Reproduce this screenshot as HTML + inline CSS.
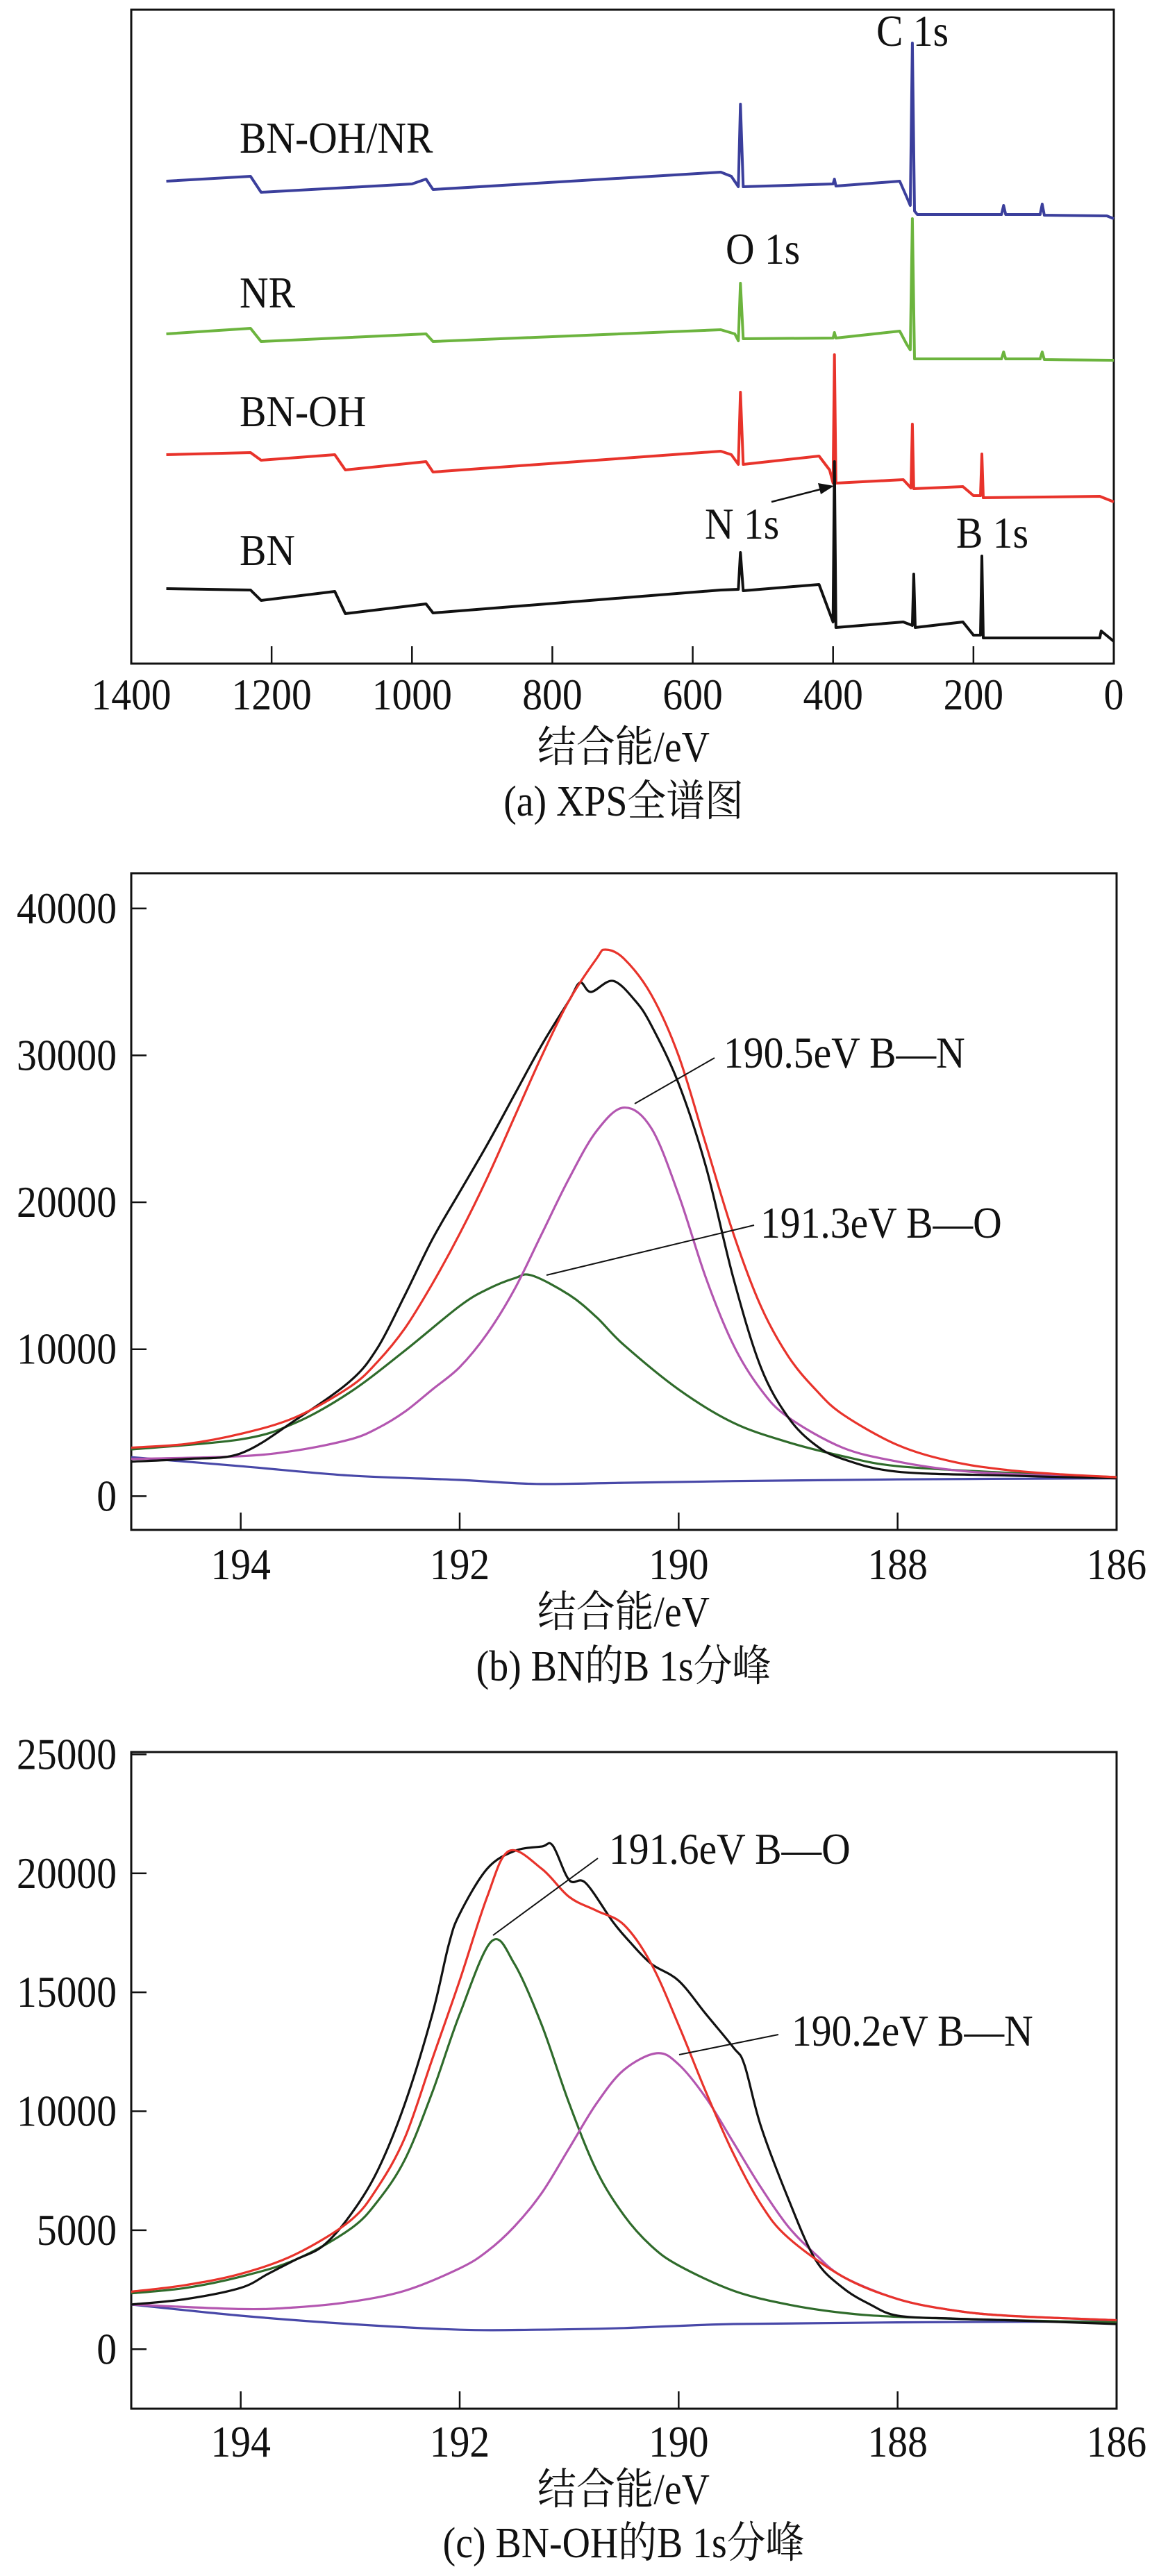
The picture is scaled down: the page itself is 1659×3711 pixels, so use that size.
<!DOCTYPE html>
<html><head><meta charset="utf-8"><style>
html,body{margin:0;padding:0;background:#fff;}
svg text{font-family:"Liberation Serif","Noto Serif CJK SC","Noto Sans CJK SC",serif;fill:#111;}
</style></head><body>
<svg id="fig" xmlns="http://www.w3.org/2000/svg" width="1659" height="3706" viewBox="0 0 1659 3706">
<g id="pa"></g>
<g id="pb"></g>
<g id="pc"></g>
</svg>
<script>
// ---------- Panel (a) data: [binding energy eV, intensity (a.u.)]
const aTicks = [1400,1200,1000,800,600,400,200,0];
const aBlue = [[1350,698],[1230,705],[1215,682],[1000,694],[980,701],[970,686],[560,711],[545,705],[535,690],[532,809],[528,690],[400,694],[398,701],[396,691],[305,698],[295,675],[290,663],[287,897],[284,655],[280,650],[160,650],[157,663],[154,650],[105,650],[102,665],[99,649],[10,648],[0,644]];
const aGreen = [[1350,478],[1230,486],[1215,467],[980,478],[970,467],[560,484],[540,478],[535,468],[532,551],[528,471],[400,472],[398,480],[396,472],[305,482],[295,463],[290,455],[287,644],[284,442],[160,442],[157,452],[154,442],[105,442],[102,452],[99,441],[0,440]];
const aRed = [[1350,304],[1230,307],[1215,296],[1110,304],[1095,282],[980,294],[970,279],[560,309],[545,304],[535,290],[532,394],[528,290],[420,302],[405,282],[400,263],[398,448],[396,263],[300,268],[289,256],[287,348],[285,255],[215,258],[200,245],[190,245],[188,305],[186,242],[20,244],[0,236]];
const aBlack = [[1350,111],[1230,109],[1215,94],[1110,107],[1095,75],[980,89],[970,76],[560,109],[535,110],[532,163],[528,108],[420,117],[410,90],[400,63],[398,294],[396,55],[300,63],[287,58],[285,132],[283,55],[215,63],[200,44],[190,44],[188,158],[186,40],[20,40],[18,50],[0,35]];

// ---------- Panel (b) data: [eV, counts]
const bTicksX = [194,192,190,188,186];
const bTicksY = [0,10000,20000,30000,40000];
const bRed = [[195,3300],[194.5,3550],[194,4240],[193.5,5370],[193,7450],[192.75,9150],[192.5,11430],[192.25,14450],[192,17860],[191.75,21640],[191.5,25800],[191.25,29970],[191,33750],[190.75,36590],[190.67,37200],[190.5,36590],[190.25,34130],[190,29970],[189.75,23910],[189.5,17860],[189.25,12940],[189,9530],[188.75,7260],[188.5,5560],[188,3480],[187.5,2350],[187,1780],[186.5,1480],[186,1290]];
const bBlack = [[195,2350],[194.5,2530],[194,2910],[193.5,5180],[193,7830],[192.75,10100],[192.5,13690],[192.25,17480],[192,20700],[191.75,23910],[191.5,27320],[191.25,30720],[191,33750],[190.9,34960],[190.8,34320],[190.6,35070],[190.4,33750],[190.25,32050],[190,28080],[189.75,22400],[189.5,14830],[189.25,8780],[189,5370],[188.75,3480],[188.5,2530],[188,1660],[187,1400],[186,1210]];
const bMag = [[195,2530],[194,2720],[193.5,3100],[193,3860],[192.75,4620],[192.5,5750],[192.25,7260],[192,8780],[191.75,11050],[191.5,14070],[191.25,17860],[191,21640],[190.75,24850],[190.5,26450],[190.25,25050],[190,20510],[189.75,14830],[189.5,10290],[189.25,7260],[189,5370],[188.5,3290],[188,2350],[187.5,1780],[187,1510],[186,1210]];
const bGreen = [[195,3180],[194,3860],[193.5,4990],[193,7080],[192.5,9910],[192,12940],[191.75,14070],[191.5,14830],[191.34,15020],[191,13700],[190.75,12180],[190.5,10290],[190,7260],[189.5,4990],[189,3670],[188.5,2720],[188,2040],[187,1590],[186,1290]];
const bBlue = [[195,2650],[194,2040],[193,1400],[192,1100],[191.3,830],[190.5,910],[189.5,1020],[188,1140],[186,1210]];

// ---------- Panel (c) data
const cTicksX = [194,192,190,188,186];
const cTicksY = [0,5000,10000,15000,20000,25000];
const cRed = [[195,2420],[194.5,2700],[194,3170],[193.5,3990],[193,5400],[192.75,6800],[192.5,8900],[192.25,12200],[192,15500],[191.75,19000],[191.55,20940],[191.25,20190],[191,19010],[190.75,18430],[190.5,17840],[190.25,16200],[190,13620],[189.75,10800],[189.5,8220],[189.25,6100],[189,4690],[188.5,3050],[188,2110],[187.5,1640],[187,1410],[186,1220]];
const cGreen = [[195,2350],[194.5,2580],[194,3050],[193.5,3760],[193,5050],[192.75,6220],[192.5,7980],[192.25,10800],[192,14080],[191.71,17140],[191.5,16200],[191.25,13620],[191,10330],[190.75,7510],[190.5,5630],[190.25,4340],[190,3520],[189.5,2460],[189,1880],[188.5,1530],[188,1360],[187,1220],[186,1130]];
const cMag = [[195,1880],[194,1690],[193.5,1760],[193,1990],[192.5,2460],[192,3400],[191.75,4110],[191.5,5160],[191.25,6570],[191,8450],[190.75,10330],[190.5,11740],[190.2,12440],[190,11970],[189.75,10560],[189.5,8690],[189.25,6810],[189,5160],[188.75,3990],[188.5,3050],[188,2110],[187.5,1640],[187,1410],[186,1220]];
const cBlack = [[195,1880],[194.5,2110],[194,2580],[193.75,3170],[193.5,3760],[193.25,4340],[193,5630],[192.75,7510],[192.5,10330],[192.25,14080],[192.1,17000],[192,18300],[191.75,20190],[191.5,20940],[191.25,21130],[191.15,21170],[191,19720],[190.85,19600],[190.6,17960],[190.45,17140],[190.25,16200],[190,15490],[189.75,14080],[189.5,12680],[189.4,11970],[189.25,9390],[189,6340],[188.75,3760],[188.5,2580],[188.25,1880],[188,1410],[187.5,1290],[187,1220],[186,1060]];
const cBlue = [[195,1880],[194,1410],[193,1060],[192,820],[191.3,820],[190.5,890],[189.5,1060],[188,1130],[186,1170]];

const NS='http://www.w3.org/2000/svg';
const FONT='"Liberation Serif","Noto Serif CJK SC","Noto Sans CJK SC",serif';
function mk(parent,tag,attrs,txt){const e=document.createElementNS(NS,tag);for(const k in attrs)e.setAttribute(k,attrs[k]);if(txt!==undefined)e.textContent=txt;parent.appendChild(e);return e;}
function txt(parent,x,y,size,anchor,s){return mk(parent,'text',{x:0,y:0,'font-size':size,'font-family':FONT,'text-anchor':anchor,transform:'translate('+x+','+y+') scale(0.9,1)'},s);}
function lin(d0,d1,r0,r1){return v=>r0+(v-d0)*(r1-r0)/(d1-d0);}
function poly(pts,sx,sy){return pts.map((p,i)=>(i?'L':'M')+sx(p[0]).toFixed(1)+','+sy(p[1]).toFixed(1)).join(' ');}
function smooth(pts,sx,sy){const P=pts.map(p=>[sx(p[0]),sy(p[1])]);let d='M'+P[0][0].toFixed(1)+','+P[0][1].toFixed(1);
 for(let i=0;i<P.length-1;i++){const p0=P[i-1]||P[i],p1=P[i],p2=P[i+1],p3=P[i+2]||p2;
 const c1=[p1[0]+(p2[0]-p0[0])/6,p1[1]+(p2[1]-p0[1])/6],c2=[p2[0]-(p3[0]-p1[0])/6,p2[1]-(p3[1]-p1[1])/6];
 d+=' C'+c1[0].toFixed(1)+','+c1[1].toFixed(1)+' '+c2[0].toFixed(1)+','+c2[1].toFixed(1)+' '+p2[0].toFixed(1)+','+p2[1].toFixed(1);}return d;}

// ---------- Panel a
(function(){
const g=document.getElementById('pa');
const L=189,R=1604,T=14,B=956;
const sx=lin(1400,0,L,R), sy=lin(0,945,959,14);
let e=mk(g,'rect',{x:L,y:T,width:R-L,height:B-T,fill:'none',stroke:'#111','stroke-width':3});


aTicks.forEach(t=>{
 e=mk(g,'line',{x1:sx(t),x2:sx(t),y1:B,y2:B-25,stroke:'#111','stroke-width':2.5});
 
 
 e=txt(g,sx(t),1022,64,'middle',String(t));
 
 
});
[[aBlue,'#3b3f9c','series-bn-oh-nr'],[aGreen,'#6cb43e','series-nr'],[aRed,'#e8332b','series-bn-oh'],[aBlack,'#111','series-bn']].forEach(s=>{
 e=mk(g,'path',{d:poly(s[0],sx,sy),fill:'none',stroke:s[1],'stroke-width':4,'stroke-linejoin':'round'});
 
 
});
const labs=[['BN-OH/NR',345,220,'label-bn-oh-nr'],['NR',345,443,'label-nr'],['BN-OH',345,614,'label-bn-oh'],['BN',345,814,'label-bn'],['C 1s',1262,66,'label-c1s'],['O 1s',1045,380,'label-o1s'],['N 1s',1015,776,'label-n1s'],['B 1s',1377,789,'label-b1s']];
labs.forEach(l=>{e=txt(g,l[1],l[2],64,'start',l[0]);
 
 });
e=mk(g,'line',{x1:1111,y1:723,x2:1185,y2:704,stroke:'#111','stroke-width':2.5});


e=mk(g,'polygon',{points:'1201,700 1178,696 1182,712',fill:'#111'});


e=txt(g,898,1097,62,'middle','结合能/eV');


e=txt(g,898,1175,62,'middle','(a) XPS全谱图');


})();

function fitPanel(gid,L,R,T,B,ymin,ymax,ticksX,ticksY,series,tickLabY,titleY,capY,caption,annots,suffix){
 const g=document.getElementById(gid);
 const sx=lin(195,186,L,R), sy=lin(ymin,ymax,B,T);
 let e=mk(g,'rect',{x:L,y:T,width:R-L,height:B-T,fill:'none',stroke:'#111','stroke-width':3});
 
 
 ticksX.forEach(t=>{
  e=mk(g,'line',{x1:sx(t),x2:sx(t),y1:B,y2:B-25,stroke:'#111','stroke-width':2.5});
  
  
  e=txt(g,sx(t),tickLabY,64,'middle',String(t));
  
  
 });
 ticksY.forEach(t=>{
  e=mk(g,'line',{x1:L,x2:L+22,y1:sy(t),y2:sy(t),stroke:'#111','stroke-width':2.5});
  
  
  e=txt(g,168,sy(t)+21,64,'end',String(t));
  
  
 });
 series.forEach(s=>{
  e=mk(g,'path',{d:smooth(s[0],sx,sy),fill:'none',stroke:s[1],'stroke-width':3.2,'stroke-linejoin':'round'});
  
  
 });
 annots.forEach(a=>{
  e=mk(g,'line',{x1:a[1],y1:a[2],x2:a[3],y2:a[4],stroke:'#111','stroke-width':2});
  
  
  e=txt(g,a[5],a[6],64,'start',a[0]);
  
  
 });
 e=txt(g,898,titleY,62,'middle','结合能/eV');
 
 
 e=txt(g,898,capY,62,'middle',caption);
 
 
}
fitPanel('pb',189,1608,1258,2204,-2300,42400,bTicksX,bTicksY,
 [[bBlue,'#4848a8','background'],[bGreen,'#2f6b2b','peak-b-o'],[bMag,'#b356b0','peak-b-n'],[bBlack,'#111','measured'],[bRed,'#e8332b','fitted-sum']],
 2275,2343,2421,'(b) BN的B 1s分峰',
 [['190.5eV B—N',914,1590,1029,1524,1042,1538],['191.3eV B—O',787,1837,1086,1765,1095,1783]],'b');
fitPanel('pc',189,1608,2524,3470,-2500,25100,cTicksX,cTicksY,
 [[cBlue,'#4848a8','background'],[cGreen,'#2f6b2b','peak-b-o'],[cMag,'#b356b0','peak-b-n'],[cBlack,'#111','measured'],[cRed,'#e8332b','fitted-sum']],
 3539,3607,3684,'(c) BN-OH的B 1s分峰',
 [['191.6eV B—O',710,2788,861,2677,877,2685],['190.2eV B—N',978,2960,1121,2931,1140,2947]],'c');
</script>
</body></html>
